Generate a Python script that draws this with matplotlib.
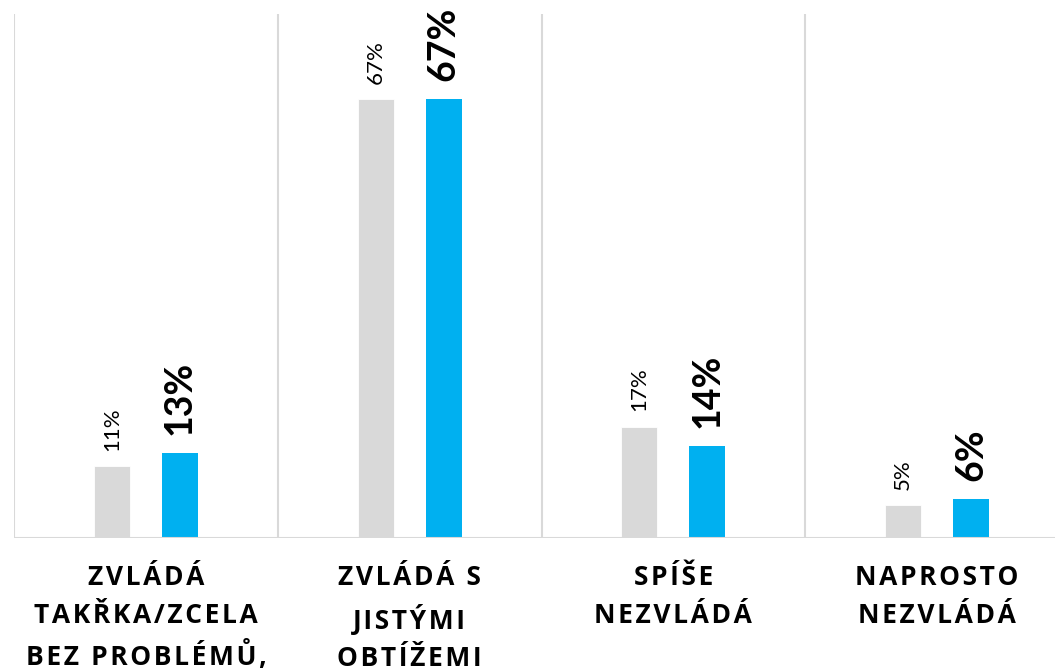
import matplotlib.pyplot as plt

categories = [
    "ZVLÁDÁ\nTAKŘKA/ZCELA\nBEZ PROBLÉMŮ,",
    "ZVLÁDÁ S\nJISTÝMI\nOBTÍŽEMI",
    "SPÍŠE\nNEZVLÁDÁ",
    "NAPROSTO\nNEZVLÁDÁ",
]
previous = [11, 67, 17, 5]
current = [13, 67, 14, 6]

GRAY = "#D9D9D9"
BLUE = "#00B0F0"
SEP = "#D9D9D9"


def spaced(label):
    # fake excel letter spacing with hair spaces
    lines = []
    for line in label.split("\n"):
        lines.append("\u200a".join(line))
    return "\n".join(lines)


fig = plt.figure(figsize=(10.55, 6.71), dpi=100)
ax = fig.add_axes([14 / 1055, 133 / 671, 1055 / 1055, 524 / 671])

n = len(categories)
xs = list(range(n))
off = 0.129
w = 0.136

ax.bar([x - off for x in xs], previous, width=w, color=GRAY, edgecolor="white", linewidth=0.6, zorder=2)
ax.bar([x + off for x in xs], current, width=w, color=BLUE, zorder=2)

for x, v in zip(xs, previous):
    ax.annotate(f"{v}%", xy=(x - off, v), xytext=(0, 11), textcoords="offset points",
                rotation=90, ha="center", va="bottom", fontsize=16, family="Lato", color="#000000")
for x, v in zip(xs, current):
    ax.annotate(f"{v}%", xy=(x + off, v), xytext=(0, 13), textcoords="offset points",
                rotation=90, ha="center", va="bottom", fontsize=27, family="Lato",
                fontweight="bold", color="#000000")

for x, lab in zip(xs, categories):
    ax.annotate(spaced(lab), xy=(x, 0), xycoords=("data", "axes fraction"),
                xytext=(0, -19), textcoords="offset points", ha="center", va="top",
                fontsize=19, family=["Open Sans", "DejaVu Sans"], fontweight="bold",
                linespacing=1.5, annotation_clip=False)

# separators between groups
for b in range(n + 1):
    ax.axvline(b - 0.5, color=SEP, linewidth=1.5, zorder=1)
ax.axhline(0, color=SEP, linewidth=1.5, zorder=3)

ax.set_xlim(-0.5, n - 0.5)
ax.set_ylim(0, 80)
ax.axis("off")

fig.savefig("out.png", dpi=100)
